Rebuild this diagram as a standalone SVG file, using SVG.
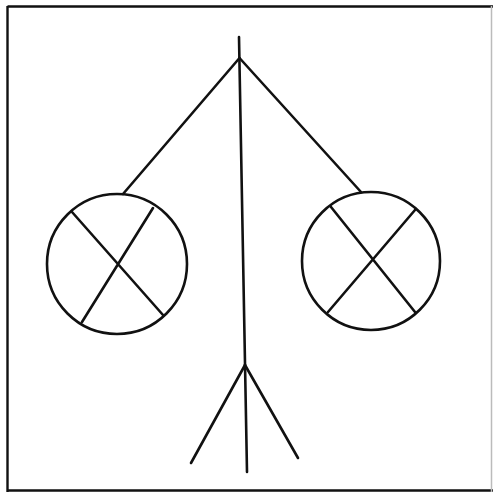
<svg xmlns="http://www.w3.org/2000/svg" width="493" height="492" viewBox="0 0 493 492">
<style>
.s{fill:none;stroke:#111;stroke-width:2.6;stroke-linecap:round;stroke-linejoin:round}
.b{fill:none;stroke:#111;stroke-width:2.4}
</style>
<rect width="493" height="492" fill="#fff"/>
<g id="frame">
<path class="b" d="M7.5,6.5 H493 M7.5,6 V492 M7,490.5 H493"/>
<path d="M491.5,6 V492" fill="none" stroke="#bbb" stroke-width="1.5"/>
</g>
<g id="connectors">
<path class="s" d="M239,37 L247,472"/>
<path class="s" d="M239.5,58 L123,194"/>
<path class="s" d="M239.5,58 L361,192"/>
<path class="s" d="M245,365 L191,463"/>
<path class="s" d="M245,365 L298,458"/>
</g>
<g id="left-circle">
<circle class="s" cx="117" cy="264" r="70"/>
<path class="s" d="M72,212 L163,315 M153,208 L82,322"/>
</g>
<g id="right-circle">
<circle class="s" cx="371" cy="261" r="69"/>
<path class="s" d="M331,207 L415,312 M415,210 L328,312"/>
</g>
</svg>
